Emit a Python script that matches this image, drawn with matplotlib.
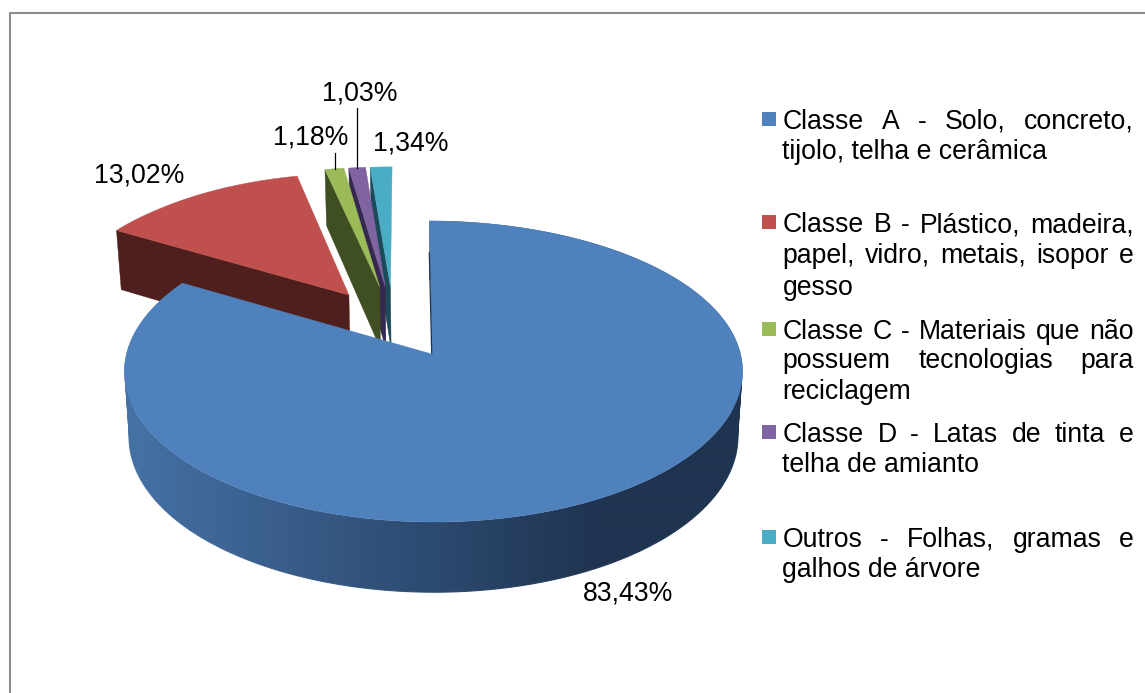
import numpy as np
import matplotlib
matplotlib.use("Agg")
import matplotlib.pyplot as plt
from matplotlib.collections import LineCollection
from matplotlib.patches import Rectangle
from matplotlib.path import Path
from matplotlib.colors import to_rgb

values = [83.43, 13.02, 1.18, 1.03, 1.34]
colors = ["#4f81bd", "#c0504d", "#9bbb59", "#8064a2", "#4bacc6"]
wall_colors = ["#1f3450", "#4f1f1d", "#3f4f22", "#35294f", "#1d4a58"]
legend_lines = [
    [("Classe A - Solo, concreto,", True), ("tijolo, telha e cerâmica", False)],
    [("Classe B - Plástico, madeira,", True), ("papel, vidro, metais, isopor e", True), ("gesso", False)],
    [("Classe C - Materiais que não", True), ("possuem tecnologias para", True), ("reciclagem", False)],
    [("Classe D - Latas de tinta e", True), ("telha de amianto", False)],
    [("Outros - Folhas, gramas e", True), ("galhos de árvore", False)],
]
legend_baselines = [[129, 159], [232, 263, 295], [339, 368, 399], [442, 472], [547, 577]]

# exploded offset of every slice on the pie plane
offsets = [(0, 0), (-0.28, 0.416), (-0.175, 0.476), (-0.156, 0.476), (-0.138, 0.476)]
label_pos = [(628, 593), (139, 176), (311, 138), (360, 93), (411, 143)]
FONT = "Liberation Sans"
FS = 19.2

# perspective of the pie, in pixels
CX, CY, RX, RY, K = 433.5, 354, 307, 148.5, 0.116


def project(u, v, bottom=False):
    x = CX + RX * u / (1 + K * v)
    y = CY - RY * v / (1 + K * v)
    # the pie leans a little around its middle
    x = x - (1.8 + 2.4 * v) * np.clip(1 - u ** 2, 0, 1)
    if bottom:
        x = CX + (x - CX) * 0.985
        y = y + 64.5 - 5.7 * v
    return x, y


def slice_outline(start, end, offset, bottom=False):
    ang = np.radians(np.linspace(start, end, max(int(end - start) * 2, 6)))
    u = np.sin(ang) + offset[0]
    v = np.cos(ang) + offset[1]
    return project(u, v, bottom)


def rim_color(x):
    stops = [125, 400, 600]
    cols = np.array([to_rgb("#4672a6"), to_rgb("#2f4e76"), to_rgb("#1f3450")])
    return np.stack([np.interp(x, stops, cols[:, i]) for i in range(3)], axis=-1)


def rim_path(x_t, y_t, x_b, y_b):
    # one quad per arc step, all wound the same way so they add up
    quads = []
    for j in range(len(x_t) - 1):
        q = np.array([(x_t[j], y_t[j]), (x_t[j + 1], y_t[j + 1]), (x_b[j + 1], y_b[j + 1]), (x_b[j], y_b[j])])
        area = np.sum(q[:, 0] * np.roll(q[:, 1], -1) - np.roll(q[:, 0], -1) * q[:, 1])
        if area < 0:
            q = q[::-1]
        quads.append(Path(np.vstack([q, q[0]]), closed=True))
    return Path.make_compound_path(*quads)


def draw_justified(ax, text, x0, x1, y, justify):
    words = text.split(" ")
    if not justify:
        ax.text(x0, y, text, family=FONT, fontsize=FS, va="baseline", ha="left", color="black")
        return
    fig = ax.figure
    rend = fig.canvas.get_renderer()
    items = [ax.text(x0, y, w, family=FONT, fontsize=FS, va="baseline", ha="left", color="black") for w in words]
    widths = [t.get_window_extent(rend).width for t in items]
    gap = (x1 - x0 - sum(widths)) / (len(words) - 1)
    x = x0
    for t, w in zip(items, widths):
        t.set_x(x)
        x += w + gap


fig = plt.figure(figsize=(11.45, 6.93), dpi=100)
ax = fig.add_axes([0, 0, 1, 1])
ax.set_xlim(0, 1145)
ax.set_ylim(693, 0)
ax.axis("off")

# chart frame, runs off the right and bottom edges
ax.plot([9.5, 9.5, 1145], [693, 12.5, 12.5], color="#8c8c8c", lw=1.5, solid_joinstyle="miter")

# slice angles, clockwise from 12 o'clock
edges = np.concatenate([[0], np.cumsum(values)]) / np.sum(values) * 360

# back slices first, blue last
for i in [4, 3, 2, 1]:
    start, end = edges[i], edges[i + 1]
    off = offsets[i]
    apex = project(off[0], off[1])
    apex_b = project(off[0], off[1], True)
    a = np.radians(start)
    rim = project(np.sin(a) + off[0], np.cos(a) + off[1])
    rim_b = project(np.sin(a) + off[0], np.cos(a) + off[1], True)
    ax.fill([rim[0], apex[0], apex_b[0], rim_b[0]], [rim[1], apex[1], apex_b[1], rim_b[1]],
            color=wall_colors[i], lw=0.3, zorder=2)
    x, y = slice_outline(start, end, off)
    ax.fill(np.append(x, apex[0]), np.append(y, apex[1]), color=colors[i], lw=0.3, zorder=2)

# blue rim with its left to right shading
x_t, y_t = slice_outline(edges[0], edges[1], offsets[0])
x_b, y_b = slice_outline(edges[0], edges[1], offsets[0], True)
shade = rim_color(np.linspace(100, 760, 660))[np.newaxis, :, :]
img = ax.imshow(shade, extent=(100, 760, 620, 200), aspect="auto", zorder=3, interpolation="bilinear")
img.set_clip_path(rim_path(x_t, y_t, x_b, y_b), transform=ax.transData)
ax.set_xlim(0, 1145)
ax.set_ylim(693, 0)

# soften the clipped lower edge
pts = np.column_stack([x_b, y_b])
segs = np.stack([pts[:-1], pts[1:]], axis=1)
ax.add_collection(LineCollection(segs, colors=rim_color((x_b[:-1] + x_b[1:]) / 2), linewidths=0.8, zorder=3.2))

apex = project(*offsets[0])
ax.fill(np.append(x_t, apex[0]), np.append(y_t, apex[1]), color=colors[0], lw=0.3, zorder=4)
# dark sliver on the cut edge at 12 o'clock
ax.plot([429.3, 431.7], [253, 353], color=wall_colors[0], lw=0.9, zorder=4.5)

# data labels
for val, pos in zip(values, label_pos):
    label = f"{val:.2f}".replace(".", ",") + "%"
    ax.text(pos[0], pos[1], label, family=FONT, fontsize=FS, ha="center", va="center", color="black", zorder=6)

# leader lines
ax.plot([335, 335], [153, 169], color="black", lw=0.9, zorder=5)
ax.plot([357, 357], [108, 168], color="black", lw=0.9, zorder=5)

# legend
fig.canvas.draw()
for lines, bases, col in zip(legend_lines, legend_baselines, colors):
    ax.add_patch(Rectangle((762, bases[0] - 17), 14, 14, facecolor=col, edgecolor="none"))
    for (line, just), base in zip(lines, bases):
        draw_justified(ax, line, 782.5, 1134, base, just)

fig.savefig("out.png", dpi=100)
